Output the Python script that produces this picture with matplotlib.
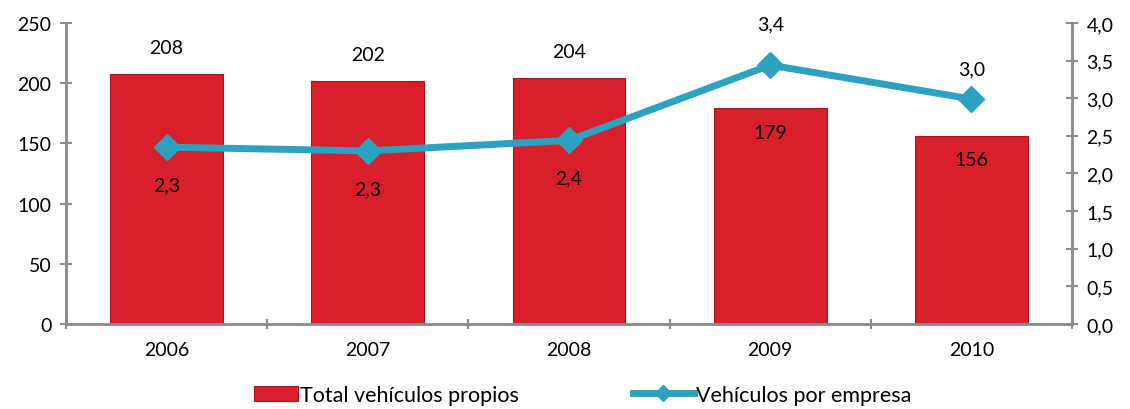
import matplotlib
matplotlib.use('Agg')
import matplotlib.pyplot as plt
from matplotlib.ticker import FixedLocator, FuncFormatter
from matplotlib.legend_handler import HandlerPatch
from matplotlib.patches import Rectangle

plt.rcParams['font.family'] = ['Lato', 'DejaVu Sans']

years = ['2006', '2007', '2008', '2009', '2010']
total_vehiculos = [208, 202, 204, 179, 156]
vehiculos_empresa = [2.35, 2.30, 2.44, 3.44, 2.99]
empresa_labels = ['2,3', '2,3', '2,4', '3,4', '3,0']

red = '#D91F2B'
teal = '#2AA2C0'
grey = '#8C8C8C'
fs = 14

fig = plt.figure(figsize=(11.3, 4.1), dpi=100)
ax = fig.add_axes([0.0584, 0.2073, 0.8903, 0.7342])
ax2 = ax.twinx()

x = list(range(len(years)))
bars = ax.bar(x, total_vehiculos, width=0.56, color=red, edgecolor='#A8141D',
              linewidth=0.8, label='Total vehículos propios', zorder=2)
ax.set_xlim(-0.5, len(years) - 0.5)
ax.set_ylim(0, 250)
ax.set_yticks(range(0, 251, 50))

line, = ax2.plot(x, vehiculos_empresa, color=teal, linewidth=5, marker='D',
                 markersize=13, label='Vehículos por empresa', zorder=3)
ax2.set_ylim(0, 4.0)
ax2.set_yticks([i * 0.5 for i in range(9)])
ax2.yaxis.set_major_formatter(FuncFormatter(lambda v, p: f'{v:.1f}'.replace('.', ',')))

# category ticks sit on the boundaries
ax.set_xticks(x)
ax.set_xticklabels(years)
ax.xaxis.set_minor_locator(FixedLocator([i + 0.5 for i in range(-1, len(years))]))
ax.tick_params(axis='x', which='major', length=0, pad=12, labelsize=fs)
ax.tick_params(axis='x', which='minor', length=7, direction='inout', color=grey, width=1.5)
ax.tick_params(axis='y', length=9, direction='inout', color=grey, width=1.5, labelsize=fs, pad=6)
ax2.tick_params(axis='y', length=9, direction='inout', color=grey, width=1.5, labelsize=fs, pad=6)

for a in (ax, ax2):
    a.spines['top'].set_visible(False)
    for side in ('left', 'right', 'bottom'):
        a.spines[side].set_color(grey)
        a.spines[side].set_linewidth(1.8)

# bar value labels: above for first three, inside for last two
for i, v in enumerate(total_vehiculos):
    off = 19 if i < 3 else -17
    ax.annotate(str(v), (i, v), xytext=(0, off), textcoords='offset points',
                ha='center', va='center', fontsize=fs, zorder=5)

line_offsets = [-27, -27, -27, 30, 22]
for i, (v, lab) in enumerate(zip(vehiculos_empresa, empresa_labels)):
    ax2.annotate(lab, (i, v), xytext=(0, line_offsets[i]), textcoords='offset points',
                 ha='center', va='center', fontsize=fs, zorder=5)


def short_patch(legend, orig_handle, xdescent, ydescent, width, height, fontsize):
    w = width * 0.73
    return Rectangle((width - w - xdescent, -ydescent), w, height)


bar_handle = bars.patches[0]
fig.legend([bar_handle, line], ['Total vehículos propios', 'Vehículos por empresa'],
           loc='center', bbox_to_anchor=(0.5084, 0.035), ncol=2, frameon=False,
           fontsize=15.5, handlelength=2.8, handletextpad=0.1, columnspacing=5.3,
           markerscale=0.6, handler_map={bar_handle: HandlerPatch(patch_func=short_patch)})

fig.savefig('out.png', dpi=100)
